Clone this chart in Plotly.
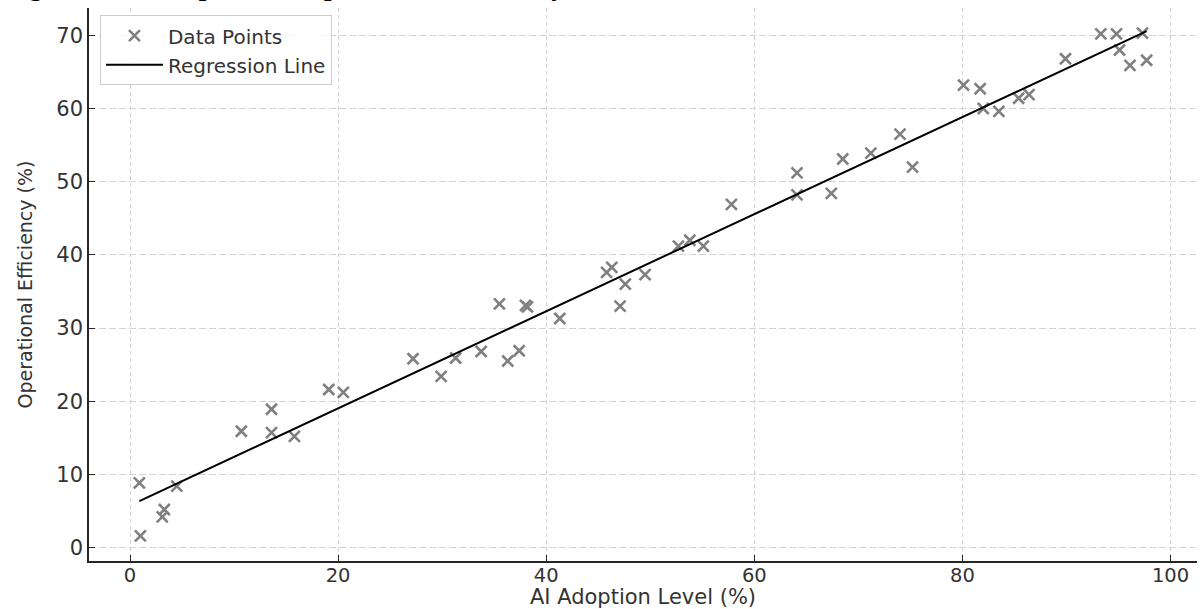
import numpy as np
import plotly.graph_objects as go

# ---- data ----
ai_adoption = [0.9, 1.0, 3.1, 3.3, 4.5, 10.7, 13.6, 13.6, 15.8, 19.1,
               20.5, 27.2, 29.9, 31.3, 33.75, 36.3, 37.4, 35.5, 38.0, 38.2,
               41.3, 47.1, 45.8, 46.3, 47.6, 49.5, 52.7, 53.8, 55.1, 57.8,
               64.1, 64.1, 67.4, 68.5, 71.2, 74.0, 75.2, 80.1, 81.7, 82.0,
               83.5, 85.4, 86.4, 89.9, 93.3, 94.8, 95.1, 96.1, 97.3, 97.7]
efficiency = [8.85, 1.6, 4.2, 5.2, 8.4, 15.9, 18.9, 15.7, 15.2, 21.6,
              21.2, 25.8, 23.4, 25.9, 26.8, 25.5, 26.9, 33.3, 33.1, 32.9,
              31.3, 33.0, 37.6, 38.3, 36.0, 37.3, 41.2, 42.0, 41.2, 46.9,
              51.2, 48.2, 48.4, 53.1, 53.9, 56.5, 52.0, 63.2, 62.7, 60.0,
              59.6, 61.4, 61.9, 66.8, 70.2, 70.2, 68.0, 65.9, 70.3, 66.6]
x_ticks = [0, 20, 40, 60, 80, 100]
y_ticks = [0, 10, 20, 30, 40, 50, 60, 70]
x_label = "AI Adoption Level (%)"
y_label = "Operational Efficiency (%)"
caption = "Figure 3: AI Adoption vs. Operational Efficiency"

# ---- regression ----
xa = np.array(ai_adoption)
ya = np.array(efficiency)
slope, intercept = np.polyfit(xa, ya, 1)
x_line = np.array([xa.min(), xa.max()])
y_line = slope * x_line + intercept

def padded(v, frac=0.05):
    lo, hi = float(np.min(v)), float(np.max(v))
    d = (hi - lo) * frac
    return [lo - d, hi + d]

TXT = "#333333"
fig = go.Figure()
fig.add_trace(go.Scatter(
    x=ai_adoption, y=efficiency, mode="markers", name="Data Points",
    marker=dict(symbol="x-thin-open", size=11, color="#808080",
                line=dict(color="#808080", width=2.6)),
))
fig.add_trace(go.Scatter(
    x=x_line, y=y_line, mode="lines", name="Regression Line",
    line=dict(color="black", width=2),
))

fig.update_layout(
    width=1200, height=609,
    margin=dict(l=89, r=3, t=8, b=48),
    paper_bgcolor="white", plot_bgcolor="white",
    font=dict(family="DejaVu Sans", color=TXT),
    showlegend=True,
    legend=dict(x=0.0099, y=0.987, xanchor="left", yanchor="top",
                bgcolor="rgba(255,255,255,0.85)", bordercolor="#cccccc",
                borderwidth=1, font=dict(size=20, color=TXT),
                itemwidth=57, tracegroupgap=0),
    xaxis=dict(range=padded(ai_adoption), tickvals=x_ticks,
               showline=True, linecolor="#262626", linewidth=1.6,
               mirror=False, ticks="inside", ticklen=6, tickwidth=1.2,
               tickcolor="#262626", tickfont=dict(size=19.5, color=TXT),
               ticklabelstandoff=-4,
               showgrid=True, gridcolor="#d3d3d3", gridwidth=1,
               griddash="4px,3px", zeroline=False,
               title=dict(text=x_label, font=dict(size=21, color=TXT),
                          standoff=4)),
    yaxis=dict(range=padded(efficiency), tickvals=y_ticks,
               showline=True, linecolor="#262626", linewidth=1.6,
               mirror=False, ticks="inside", ticklen=6, tickwidth=1.2,
               tickcolor="#262626", tickfont=dict(size=21, color=TXT),
               showgrid=True, gridcolor="#d3d3d3", gridwidth=1,
               griddash="7px,3px", zeroline=False,
               title=dict(text=y_label, font=dict(size=19, color=TXT),
                          standoff=19)),
)

fig.add_annotation(
    text="<b>" + caption + "</b>", xref="paper", yref="paper",
    x=-0.0767, y=1, xanchor="left", yanchor="bottom", yshift=6,
    showarrow=False, borderpad=0,
    font=dict(family="Liberation Serif", size=27, color="black"),
)

fig.write_html("out.html")
